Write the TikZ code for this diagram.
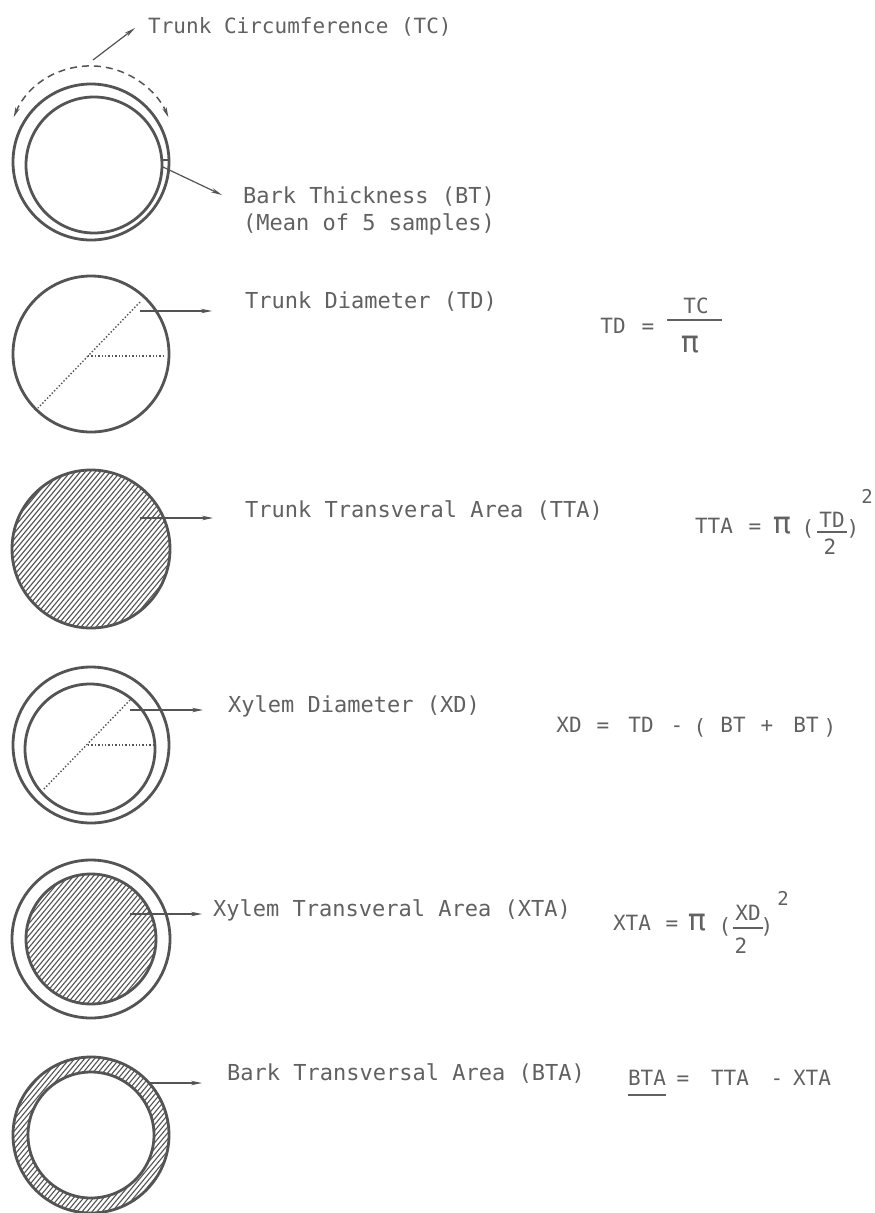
\documentclass[tikz,border=0pt]{standalone}
\usepackage{fontspec}
\newfontfamily\labfont{DejaVu Sans Mono}
\usetikzlibrary{arrows.meta}
\definecolor{inkc}{gray}{0.33}
\definecolor{txtc}{gray}{0.38}
\newcommand\hatchdisc[2]{%
  \begin{scope}
    \clip (#1) circle[radius=#2];
    \foreach \i in {-115,-110,...,115}
      \draw[hatch] ([xshift=\i pt]#1) ++(-75,90) -- ++(150,-180);
  \end{scope}}
\begin{document}
\begin{tikzpicture}[x=1pt,y=-1pt,
  ink/.style={draw=inkc, line width=2.8pt},
  lead/.style={draw=inkc, line width=1.2pt, -{Stealth[length=11pt,width=4.5pt]}},
  tcarc/.style={draw=inkc, line width=1.5pt, dash pattern=on 7pt off 5pt, {Stealth[length=10pt,width=4.5pt]}-{Stealth[length=10pt,width=4.5pt]}},
  dots/.style={draw=inkc, line width=1.4pt, dotted},
  hatch/.style={draw=inkc, line width=1.1pt},
  bar/.style={draw=txtc, line width=1.3pt},
  lab/.style={inner sep=0, anchor=base west, text=txtc, font=\labfont\fontsize{22}{26}\selectfont},
  tok/.style={inner sep=0, anchor=base, text=txtc, font=\labfont\fontsize{21}{25}\selectfont},
  pitok/.style={inner sep=0, anchor=base, text=txtc, font=\labfont\fontsize{30}{34}\selectfont},
  sup/.style={inner sep=0, anchor=base, text=txtc, font=\labfont\fontsize{19}{22}\selectfont}]
\fill[white] (0,0) rectangle (875,1213);
\useasboundingbox (0,0) rectangle (875,1213);

% ---------- 1: trunk circumference / bark thickness
\coordinate (c1o) at (91,162);
\coordinate (c1i) at (94,165);
\draw[ink] (c1o) circle[radius=78];
\draw[ink] (c1i) circle[radius=68];
\coordinate (tcL) at (13.7,117.2);
\draw[tcarc] (tcL) arc[start angle=203, end angle=337, radius=84];
\coordinate (tcS) at (93,60);
\coordinate (tcE) at (135,28);
\draw[lead] (tcS) -- (tcE);
\coordinate (btk1) at (161,160);
\coordinate (btk2) at (170,160);
\draw[draw=inkc, line width=1.2pt] (btk1) -- (btk2);
\coordinate (btS) at (163,167);
\coordinate (btE) at (222,195);
\draw[lead] (btS) -- (btE);
\node[lab, font=\labfont\fontsize{21}{25}\selectfont] (tc) at (148,33) {Trunk Circumference (TC)};
\node[lab] (bt) at (243,203) {Bark Thickness (BT)};
\node[lab] (bt2) at (243,230) {(Mean of 5 samples)};

% ---------- 2: trunk diameter
\coordinate (c2) at (91,354);
\draw[ink] (c2) circle[radius=78];
\coordinate (d2c) at (88,356);
\coordinate (d2r) at (166,356);
\coordinate (d2a) at (140,302);
\coordinate (d2b) at (38,408);
\draw[dots] (d2c) -- (d2r);
\draw[dots] (d2a) -- (d2b);
\coordinate (tdS) at (140,311);
\coordinate (tdE) at (212,311);
\draw[lead] (tdS) -- (tdE);
\node[lab] (td) at (245,308) {Trunk Diameter (TD)};
\node[tok] (f1l) at (613,333) {TD};
\node[tok] (f1e) at (648,333) {=};
\node[tok] (f1n) at (696,313) {TC};
\node[pitok] (f1d) at (690,352) {π};
\coordinate (f1a) at (667,320);
\coordinate (f1b) at (722,320);
\draw[bar] (f1a) -- (f1b);

% ---------- 3: trunk transversal area
\coordinate (c3) at (91,549);
\hatchdisc{c3}{79}
\draw[ink] (c3) circle[radius=79];
\coordinate (ttS) at (140,518);
\coordinate (ttE) at (213,518);
\draw[lead] (ttS) -- (ttE);
\node[lab] (tta) at (245,517) {Trunk Transveral Area (TTA)};
\node[tok] (f2l) at (714,533) {TTA};
\node[tok] (f2e) at (755,533) {=};
\node[pitok] (f2p) at (782,533) {π};
\node[tok] (f2o) at (808,535) {(};
\node[tok] (f2n) at (832,527) {TD};
\node[tok] (f2d) at (830,554) {2};
\node[tok] (f2c) at (853,535) {)};
\node[sup] (f2s) at (867,503) {2};
\coordinate (f2a) at (817,532);
\coordinate (f2b) at (847,532);
\draw[bar] (f2a) -- (f2b);

% ---------- 4: xylem diameter
\coordinate (c4o) at (91,745);
\coordinate (c4i) at (90,749);
\draw[ink] (c4o) circle[radius=78];
\draw[ink] (c4i) circle[radius=65];
\coordinate (d4c) at (88,745);
\coordinate (d4r) at (155,745);
\coordinate (d4a) at (130,700);
\coordinate (d4b) at (43,790);
\draw[dots] (d4c) -- (d4r);
\draw[dots] (d4a) -- (d4b);
\coordinate (xdS) at (130,710);
\coordinate (xdE) at (203,710);
\draw[lead] (xdS) -- (xdE);
\node[lab] (xd) at (228,712) {Xylem Diameter (XD)};
\node[tok] (f3a) at (569,732) {XD};
\node[tok] (f3b) at (603,732) {=};
\node[tok] (f3c) at (641,732) {TD};
\node[tok] (f3d) at (677,732) {-};
\node[tok] (f3e) at (700,734) {(};
\node[tok] (f3f) at (733,732) {BT};
\node[tok] (f3g) at (767,732) {+};
\node[tok] (f3h) at (806,732) {BT};
\node[tok] (f3i) at (830,734) {)};

% ---------- 5: xylem transversal area
\coordinate (c5) at (91,939);
\draw[ink] (c5) circle[radius=79];
\hatchdisc{c5}{65}
\draw[ink] (c5) circle[radius=65];
\coordinate (xtS) at (130,914);
\coordinate (xtE) at (202,914);
\draw[lead] (xtS) -- (xtE);
\node[lab] (xta) at (213,916) {Xylem Transveral Area (XTA)};
\node[tok] (f4l) at (632,930) {XTA};
\node[tok] (f4e) at (672,930) {=};
\node[pitok] (f4p) at (697,930) {π};
\node[tok] (f4o) at (725,933) {(};
\node[tok] (f4n) at (748,920) {XD};
\node[tok] (f4d) at (741,953) {2};
\node[tok] (f4c) at (767,933) {)};
\node[sup] (f4s) at (783,905) {2};
\coordinate (f4a) at (733,928);
\coordinate (f4b) at (763,928);
\draw[bar] (f4a) -- (f4b);

% ---------- 6: bark transversal area
\coordinate (c6) at (91,1135);
\hatchdisc{c6}{78}
\fill[white] (c6) circle[radius=63];
\draw[ink] (c6) circle[radius=78];
\draw[ink] (c6) circle[radius=63];
\coordinate (baS) at (148,1083);
\coordinate (baE) at (202,1083);
\draw[lead] (baS) -- (baE);
\node[lab] (bta) at (227,1080) {Bark Transversal Area (BTA)};
\node[tok] (f5a) at (647,1085) {BTA};
\node[tok] (f5b) at (683,1085) {=};
\node[tok] (f5c) at (730,1085) {TTA};
\node[tok] (f5d) at (777,1085) {-};
\node[tok] (f5e) at (812,1085) {XTA};
\draw[draw=txtc, line width=1.2pt] ([yshift=-10pt]f5a.base west) -- ([yshift=-10pt]f5a.base east);
\end{tikzpicture}
\end{document}
